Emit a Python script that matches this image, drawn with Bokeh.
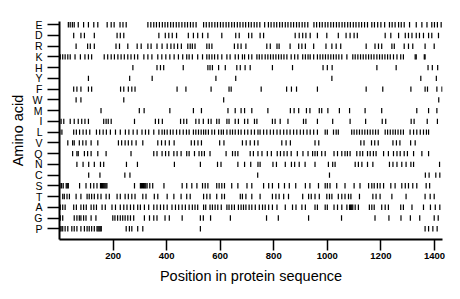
from bokeh.plotting import figure
from bokeh.models import FixedTicker, ColumnDataSource
from bokeh.embed import file_html
from bokeh.resources import INLINE

rows = ["E", "D", "R", "K", "H", "Y", "F", "W", "M", "I",
        "L", "V", "Q", "N", "C", "S", "T", "A", "G", "P"]
x_ticks = [200, 400, 600, 800, 1000, 1200, 1400]
seq_length = 1430

E_pos = [33,40,48,55,70,90,108,128,143,178,193,204,226,237,249,330,341,352,362,373,384,394,404,415,425,436,446,457,468,478,489,499,510,538,548,559,569,580,590,601,611,622,632,643,653,664,674,685,695,706,716,727,737,748,766,780,790,801,811,822,832,843,853,864,874,885,895,906,916,927,950,960,971,981,992,1002,1013,1023,1034,1044,1055,1065,1076,1086,1097,1107,1118,1128,1139,1150,1166,1176,1188,1200,1214,1232,1242,1253,1266,1276,1287,1307,1332,1353,1372,1390,1400,1411,1425]
D_pos = [53,80,93,130,215,227,240,371,395,408,421,437,481,500,516,534,554,606,658,671,706,718,749,762,880,895,908,920,936,963,998,1041,1070,1085,1100,1112,1216,1237,1266,1291,1303,1316,1332,1344,1359,1378,1390,1415]
R_pos = [62,105,115,130,211,224,255,290,305,330,342,364,383,402,416,428,441,455,479,488,496,506,550,559,569,653,666,678,696,774,787,812,820,861,893,905,918,949,995,1017,1033,1050,1145,1178,1191,1203,1241,1250,1287,1303,1319,1365,1399]
K_pos = [3,12,21,31,40,58,78,95,108,120,167,180,193,205,218,230,242,255,267,280,292,315,330,345,367,382,397,412,428,444,460,475,484,496,516,534,550,559,569,579,591,606,625,637,656,668,683,691,706,718,737,746,756,768,778,788,798,808,818,828,838,849,865,878,890,908,918,928,936,949,963,973,983,993,1003,1013,1023,1033,1043,1054,1073,1095,1104,1114,1124,1134,1144,1154,1164,1174,1185,1195,1205,1215,1225,1235,1247,1260,1274,1284,1328,1332,1362,1365]
H_pos = [274,364,377,389,462,554,562,571,594,619,662,675,693,712,795,870,984,1000,1018,1185,1257,1376,1392,1412]
Y_pos = [108,262,346,584,658,1017,1349,1407]
F_pos = [53,65,80,108,120,228,240,257,270,282,439,472,566,633,641,753,848,866,885,963,1145,1207,1312,1365,1374,1409,1428]
W_pos = [62,80,240,613,1416]
M_pos = [155,298,316,412,500,530,629,656,678,691,718,778,862,876,893,922,935,970,979,1002,1045,1083,1141,1203,1334,1378,1409]
I_pos = [6,16,40,55,70,83,95,108,165,174,182,193,280,358,370,384,452,464,475,509,521,537,556,566,587,596,625,633,656,668,691,703,728,737,795,805,824,853,911,920,963,1020,1085,1143,1205,1218,1313,1324,1373,1411]
L_pos = [1,9,53,63,75,88,100,113,138,150,163,175,190,209,227,246,259,275,290,308,321,333,352,371,383,392,402,414,424,437,449,462,474,484,500,509,519,529,538,546,556,569,579,594,604,612,625,637,646,656,668,678,691,703,716,728,741,749,762,774,787,799,812,824,837,849,861,874,886,899,911,924,936,949,963,992,1000,1023,1033,1041,1091,1100,1110,1120,1130,1140,1150,1160,1170,1180,1190,1216,1225,1235,1245,1254,1264,1274,1284,1309,1322,1334,1347,1359,1370,1378]
V_pos = [31,49,55,74,87,99,118,143,220,232,245,257,270,286,311,367,381,395,410,428,492,504,517,530,598,614,683,697,712,728,741,830,846,862,954,968,1125,1137,1165,1177,1190,1245,1258,1271,1311,1328]
Q_pos = [49,65,70,93,105,118,143,174,267,352,364,383,396,408,427,439,454,475,484,504,521,531,541,562,622,646,656,666,712,724,741,756,776,791,813,825,838,850,865,888,909,928,945,954,963,979,992,1025,1038,1054,1066,1075,1085,1110,1122,1132,1150,1160,1172,1182,1210,1228,1247,1260,1272,1287,1299,1322,1353,1378]
N_pos = [65,88,109,130,153,165,250,291,429,526,590,603,666,691,714,741,749,797,810,843,866,878,895,917,954,1004,1020,1029,1104,1116,1129,1150,1170,1232,1245,1260,1278,1294,1312,1322,1419]
C_pos = [109,151,244,263,740,1008,1366,1380,1405,1420]
S_pos = [2,8,14,25,29,33,75,99,116,128,140,153,157,161,165,169,173,177,280,302,306,310,314,318,322,327,337,348,390,458,475,494,513,534,544,554,587,596,606,616,643,666,700,718,762,781,795,818,840,858,882,918,935,967,992,1000,1010,1035,1066,1100,1122,1154,1166,1175,1187,1197,1210,1237,1253,1278,1291,1303,1319,1334,1369,1382]
T_pos = [12,18,28,37,62,80,103,111,120,130,143,155,174,186,215,227,245,257,270,282,311,323,354,367,402,427,454,475,488,538,550,562,587,606,616,675,683,696,718,749,795,808,820,837,855,908,930,940,954,970,998,1008,1017,1041,1054,1066,1079,1088,1120,1170,1182,1197,1241,1294,1365,1384,1399]
A_pos = [3,12,21,53,63,80,90,100,118,128,138,159,171,196,209,227,240,252,265,277,292,302,317,333,352,364,377,389,402,420,433,445,458,470,484,496,506,516,538,546,562,571,581,591,604,625,633,643,653,668,678,687,696,708,718,731,746,758,768,781,795,812,843,870,883,905,918,954,963,992,1000,1025,1038,1054,1073,1083,1087,1091,1095,1104,1116,1157,1166,1175,1203,1216,1228,1274,1284,1316,1359,1385,1403,1420]
G_pos = [3,12,55,65,74,80,90,99,118,136,199,207,217,227,236,245,255,265,277,317,336,352,364,394,410,458,526,537,564,638,773,817,930,1053,1178,1230,1275,1310,1345,1399,1414]
P_pos = [2,6,12,21,31,46,55,65,80,93,103,111,120,130,140,144,148,152,156,249,261,270,292,311,526,1365,1378,1394,1410]

positions = {
    "E": E_pos, "D": D_pos, "R": R_pos, "K": K_pos, "H": H_pos,
    "Y": Y_pos, "F": F_pos, "W": W_pos, "M": M_pos, "I": I_pos,
    "L": L_pos, "V": V_pos, "Q": Q_pos, "N": N_pos, "C": C_pos,
    "S": S_pos, "T": T_pos, "A": A_pos, "G": G_pos, "P": P_pos,
}

n = len(rows)
xs, y0s, y1s = [], [], []
for i, aa in enumerate(rows):
    yv = n - 1 - i
    for x in positions[aa]:
        xs.append(x)
        y0s.append(yv - 0.25)
        y1s.append(yv + 0.25)

src = ColumnDataSource(dict(x=xs, y0=y0s, y1=y1s))

p = figure(frame_width=383, frame_height=218,
           x_range=(0, seq_length), y_range=(-1, 19.3),
           output_backend="svg", toolbar_location=None,
           min_border_left=59, min_border_top=21,
           min_border_right=10, min_border_bottom=10)

p.segment(x0="x", y0="y0", x1="x", y1="y1", source=src,
          line_color="black", line_width=1.2)

p.grid.visible = False
p.outline_line_color = None
p.background_fill_color = "white"

for ax in (p.xaxis, p.yaxis):
    ax.axis_line_width = 2
    ax.axis_line_color = "black"
    ax.major_tick_line_width = 1.5
    ax.major_tick_line_color = "black"
    ax.major_tick_in = 0
    ax.minor_tick_line_color = None
    ax.major_label_text_color = "black"
    ax.major_label_text_font = "Liberation Sans"
    ax.axis_label_text_color = "black"
    ax.axis_label_text_font = "Liberation Sans"
    ax.axis_label_text_font_style = "normal"
    ax.axis_label_text_font_size = "14.5px"

p.xaxis.ticker = FixedTicker(ticks=x_ticks)
p.xaxis.major_tick_out = 11
p.xaxis.major_label_standoff = 2
p.xaxis.major_label_text_font_size = "9.5px"
p.xaxis.major_label_text_font_style = "bold"
p.xaxis.axis_label = "Position in protein sequence"
p.xaxis.axis_label_standoff = 6

p.yaxis.ticker = FixedTicker(ticks=list(range(n)))
p.yaxis.major_label_overrides = {i: rows[n - 1 - i] for i in range(n)}
p.yaxis.major_tick_out = 12
p.yaxis.major_label_standoff = 5
p.yaxis.major_label_text_font_size = "10.5px"
p.yaxis.axis_label = "Amino acid"
p.yaxis.axis_label_standoff = 4

open("out.html", "w").write(file_html(p, INLINE))
